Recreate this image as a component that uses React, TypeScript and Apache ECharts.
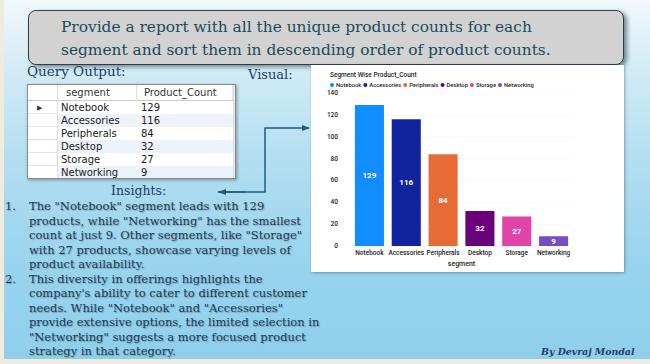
import React, { useEffect, useRef } from "react";
import * as echarts from "echarts";

const categories = ["Notebook", "Accessories", "Peripherals", "Desktop", "Storage", "Networking"];
const productCounts = [129, 116, 84, 32, 27, 9];
const barColors = ["#118DFF", "#12239E", "#E66C37", "#6B007B", "#E044A7", "#744EC2"];
const yTicks = { min: 0, max: 140, interval: 20 };

const titleLines = [
  "Provide a report with all the unique product counts for each",
  "segment and sort them in descending order of product counts.",
];
const insightItems = [
  {
    num: "1.",
    lines: [
      "The \"Notebook\" segment leads with 129",
      "products, while \"Networking\" has the smallest",
      "count at just 9. Other segments, like \"Storage\"",
      "with 27 products, showcase varying levels of",
      "product availability.",
    ],
  },
  {
    num: "2.",
    lines: [
      "This diversity in offerings highlights the",
      "company's ability to cater to different customer",
      "needs. While \"Notebook\" and \"Accessories\"",
      "provide extensive options, the limited selection in",
      "\"Networking\" suggests a more focused product",
      "strategy in that category.",
    ],
  },
];

const SERIF = "'DejaVu Serif', serif";
const SANS = "'DejaVu Sans', Verdana, sans-serif";
const CHART_FONT = "Roboto, 'Noto Sans', sans-serif";

function Chart() {
  const ref = useRef<HTMLDivElement>(null);
  useEffect(() => {
    if (!ref.current) return;
    const chart = echarts.init(ref.current, undefined, { renderer: "svg" });
    const series = categories.map((name, i) => ({
      name,
      type: "bar",
      stack: "total",
      barWidth: "79%",
      itemStyle: { color: barColors[i] },
      label: {
        show: true,
        position: "inside",
        color: "#ffffff",
        fontWeight: "bold",
        fontSize: 8,
        fontFamily: CHART_FONT,
      },
      data: categories.map((_, j) => (j === i ? productCounts[i] : "-")),
    }));
    chart.setOption({
      animation: false,
      backgroundColor: "#ffffff",
      textStyle: { fontFamily: CHART_FONT },
      title: {
        text: "Segment Wise Product_Count",
        left: 14,
        top: 1,
        textStyle: { fontSize: 6.5, fontWeight: 500, color: "#252423", fontFamily: CHART_FONT },
      },
      legend: {
        left: 14,
        top: 12,
        icon: "circle",
        itemWidth: 4,
        itemHeight: 4,
        itemGap: 2,
        textStyle: { fontSize: 5.8, fontWeight: 500, color: "#252423", padding: [0, 0, 0, -3] },
        data: categories,
      },
      grid: { left: 40, right: 52, top: 28, bottom: 26, outerBoundsMode: "none" },
      xAxis: {
        type: "category",
        data: categories,
        name: "segment",
        nameLocation: "middle",
        nameGap: 14,
        nameTextStyle: { fontSize: 7, fontWeight: 500, color: "#252423" },
        axisLine: { show: false },
        axisTick: { show: false },
        axisLabel: { fontSize: 6.5, fontWeight: 500, color: "#252423", margin: 3, interval: 0 },
      },
      yAxis: {
        type: "value",
        min: yTicks.min,
        max: yTicks.max,
        interval: yTicks.interval,
        axisLine: { show: false },
        axisTick: { show: false },
        axisLabel: { fontSize: 6.5, fontWeight: 500, color: "#252423", margin: 13 },
        splitLine: { lineStyle: { color: "#f0f0f0", type: "dotted" } },
      },
      series,
    });
    return () => chart.dispose();
  }, []);
  return <div ref={ref} style={{ width: 313, height: 207 }} />;
}

export default function App() {
  const rowTop = (i: number) => 101 + 13 * i;
  const insightStyle = {
    position: "absolute" as const,
    fontFamily: SERIF,
    fontSize: 11.5,
    lineHeight: "14.5px",
    color: "#1d3a55",
    whiteSpace: "nowrap" as const,
    textShadow: "1px 1px 1px rgba(0,0,0,0.25)",
  };
  return (
    <div
      style={{
        position: "fixed",
        left: 0,
        top: 0,
        width: 650,
        height: 364,
        overflow: "hidden",
        background: "#efebdf",
      }}
    >
      {/* slide background */}
      <div
        style={{
          position: "absolute",
          left: 4,
          top: 0,
          width: 646,
          height: 359,
          background:
            "linear-gradient(180deg, #f1f8fb 0%, #d8eef7 15%, #b5dff1 42%, #9ad4ee 72%, #8fcfec 100%)",
        }}
      />
      {/* title box */}
      <div
        style={{
          position: "absolute",
          left: 28,
          top: 10,
          width: 594,
          height: 53,
          background: "#d2d2d2",
          border: "1.5px solid #2e3d47",
          borderRadius: 8,
          boxShadow: "3px 2px 4px rgba(30,50,60,0.55)",
        }}
      />
      {titleLines.map((t, i) => (
        <div
          key={i}
          style={{
            position: "absolute",
            left: 61,
            top: 18 + i * 23,
            fontFamily: SERIF,
            fontSize: 15.4,
            lineHeight: "19px",
            color: "#1b4a5c",
            whiteSpace: "nowrap",
          }}
        >
          {t}
        </div>
      ))}
      {/* labels */}
      <div style={{ position: "absolute", left: 27, top: 63, fontFamily: SERIF, fontSize: 13.5, color: "#1b3c6b", whiteSpace: "nowrap" }}>
        Query Output:
      </div>
      <div style={{ position: "absolute", left: 248, top: 67, fontFamily: SERIF, fontSize: 13, color: "#1b3c6b", whiteSpace: "nowrap" }}>
        Visual:
      </div>
      <div style={{ position: "absolute", left: 111, top: 183, fontFamily: SERIF, fontSize: 12.5, color: "#1b3c6b", whiteSpace: "nowrap" }}>
        Insights:
      </div>
      {/* query output table */}
      <div
        style={{
          position: "absolute",
          left: 27,
          top: 84,
          width: 209,
          height: 95,
          background: "#ffffff",
          border: "1px solid #8c8c8c",
          boxShadow: "1px 1px 3px rgba(0,0,0,0.35)",
          boxSizing: "border-box",
          overflow: "hidden",
        }}
      >
        <div style={{ position: "absolute", left: 204, top: 0, width: 5, height: 95, background: "#e9e9e9" }} />
        <div style={{ position: "absolute", left: 0, top: 15, width: 205, height: 1, background: "#c9c9c9" }} />
        {[29, 108, 205].map((x, i) => (
          <div key={i} style={{ position: "absolute", left: x, top: 0, width: 1, height: 95, background: "#dcdcdc" }} />
        ))}
        <div style={{ position: "absolute", left: 38, top: 1, fontFamily: SANS, fontSize: 10, lineHeight: "14px", color: "#333" }}>segment</div>
        <div style={{ position: "absolute", left: 116, top: 1, fontFamily: SANS, fontSize: 10, lineHeight: "14px", color: "#333" }}>Product_Count</div>
        {categories.map((c, i) => (
          <React.Fragment key={c}>
            <div
              style={{
                position: "absolute",
                left: 30,
                top: rowTop(i) - 84 - 1,
                width: 175,
                height: 13,
                background: i % 2 === 1 ? "#eef3fb" : "#ffffff",
              }}
            />
            <div style={{ position: "absolute", left: 0, top: rowTop(i) - 84 + 12 - 1, width: 29, height: 1, background: "#e4e4e4" }} />
            <div style={{ position: "absolute", left: 33, top: rowTop(i) - 84 - 1, fontFamily: SANS, fontSize: 10, lineHeight: "13px", color: "#1a1a1a", whiteSpace: "nowrap" }}>
              {c}
            </div>
            <div style={{ position: "absolute", left: 113, top: rowTop(i) - 84 - 1, fontFamily: SANS, fontSize: 10, lineHeight: "13px", color: "#1a1a1a" }}>
              {productCounts[i]}
            </div>
          </React.Fragment>
        ))}
        <div style={{ position: "absolute", left: 9, top: rowTop(0) - 84, fontSize: 7, lineHeight: "12px", color: "#333" }}>▶</div>
      </div>
      {/* arrows */}
      <svg style={{ position: "absolute", left: 0, top: 0 }} width={650} height={364}>
        <defs>
          <marker id="ah" markerWidth="8" markerHeight="6" refX="7" refY="3" orient="auto" markerUnits="userSpaceOnUse">
            <path d="M0,0 L8,3 L0,6 Z" fill="#1f5d7c" />
          </marker>
        </defs>
        <polyline points="218,192 265,192 265,128 309,128" fill="none" stroke="#1f5d7c" strokeWidth={1.5} markerEnd="url(#ah)" />
        <line x1="245" y1="192" x2="219" y2="192" stroke="#1f5d7c" strokeWidth={1.5} markerEnd="url(#ah)" />
      </svg>
      {/* chart */}
      <div
        style={{
          position: "absolute",
          left: 311,
          top: 65,
          width: 313,
          height: 207,
          boxShadow: "1px 1px 3px rgba(0,0,0,0.3)",
          background: "#fff",
        }}
      >
        <Chart />
      </div>
      {/* insights */}
      {(() => {
        const out: React.ReactNode[] = [];
        let line = 0;
        insightItems.forEach((item, k) => {
          out.push(
            <div key={"n" + k} style={{ ...insightStyle, left: 5, top: 199 + line * 14.5 }}>
              {item.num}
            </div>
          );
          item.lines.forEach((l) => {
            out.push(
              <div key={"l" + line} style={{ ...insightStyle, left: 29, top: 199 + line * 14.5 }}>
                {l}
              </div>
            );
            line++;
          });
        });
        return out;
      })()}
      <div
        style={{ position: "absolute", left: 541, top: 346, fontFamily: SERIF, fontSize: 9.4, fontWeight: "bold", fontStyle: "italic", color: "#1f3e6b", whiteSpace: "nowrap" }}
      >
        By Devraj Mondal
      </div>
    </div>
  );
}
